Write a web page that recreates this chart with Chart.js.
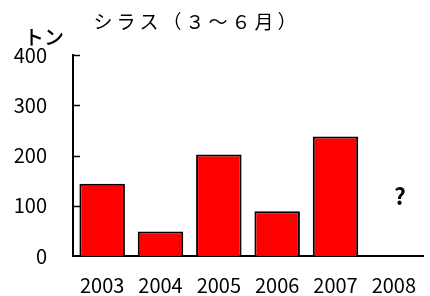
<!DOCTYPE html>
<html>
<head>
<meta charset="utf-8">
<script src="https://cdn.jsdelivr.net/npm/chart.js@4"></script>
<style>
  html, body { margin: 0; padding: 0; background: #fff; }
  #wrap { width: 430px; height: 296px; }
</style>
</head>
<body>
<div id="wrap"><canvas id="shirasuChart" width="430" height="296"></canvas></div>
<script>
// シラス漁獲量（トン）
var years = ['2003', '2004', '2005', '2006', '2007', '2008'];
var catches = [144, 49, 202, 89, 238, null];
var yTicks = [0, 100, 200, 300, 400];
var chartTitle = 'シラス（３～６月）';
var unitLabel = 'トン';

var jpFont = "'Noto Sans CJK JP', sans-serif";

// inward tick marks, title, unit and the "?" for 2008
var decorations = {
    id: 'decorations',
    afterDraw: function (chart) {
        var ctx = chart.ctx;
        var y = chart.scales.y;
        var x = chart.scales.x;
        ctx.save();
        ctx.strokeStyle = '#000';
        ctx.lineWidth = 1.5;
        yTicks.forEach(function (v) {
            if (v === 0) return;
            var py = Math.round(y.getPixelForValue(v)) + 0.5;
            ctx.beginPath();
            ctx.moveTo(x.left, py);
            ctx.lineTo(x.left + 7, py);
            ctx.stroke();
        });

        ctx.fillStyle = '#000';
        ctx.textBaseline = 'middle';
        ctx.textAlign = 'center';
        ctx.font = '19px ' + jpFont;
        ctx.letterSpacing = '4px';
        ctx.fillText(chartTitle, 197, 22);
        ctx.letterSpacing = '0px';

        ctx.textAlign = 'left';
        ctx.font = '500 20px ' + jpFont;
        ctx.fillText(unitLabel, 24, 37);

        ctx.textAlign = 'center';
        ctx.font = 'bold 23px ' + jpFont;
        ctx.fillText('?', x.getPixelForValue(5) + 6, y.getPixelForValue(118));
        ctx.restore();
    }
};

var ctxShirasu = document.getElementById('shirasuChart').getContext('2d');
var shirasuChart = new Chart(ctxShirasu, {
    type: 'bar',
    data: {
        labels: years,
        datasets: [{
            label: 'シラス',
            data: catches,
            backgroundColor: '#ff0000',
            borderColor: '#000000',
            borderWidth: 2,
            barPercentage: 0.78,
            categoryPercentage: 1.0
        }]
    },
    options: {
        responsive: false,
        animation: false,
        devicePixelRatio: 1,
        layout: {
            padding: { top: 55, right: 7, left: 0, bottom: 0 }
        },
        plugins: {
            legend: { display: false },
            tooltip: { enabled: false }
        },
        scales: {
            x: {
                grid: { display: false },
                border: { display: true, color: '#000', width: 2 },
                ticks: {
                    color: '#000',
                    padding: 9,
                    font: { family: jpFont, size: 20 }
                },
                afterFit: function (scale) { scale.height = 40; }
            },
            y: {
                min: 0,
                max: 400,
                grid: { display: false },
                border: { display: true, color: '#000', width: 2 },
                afterBuildTicks: function (scale) {
                    scale.ticks = yTicks.map(function (v) { return { value: v }; });
                },
                ticks: {
                    color: '#000',
                    padding: 18,
                    font: { family: jpFont, size: 20 }
                },
                afterFit: function (scale) { scale.width = 73; }
            }
        }
    },
    plugins: [decorations]
});
</script>
</body>
</html>
